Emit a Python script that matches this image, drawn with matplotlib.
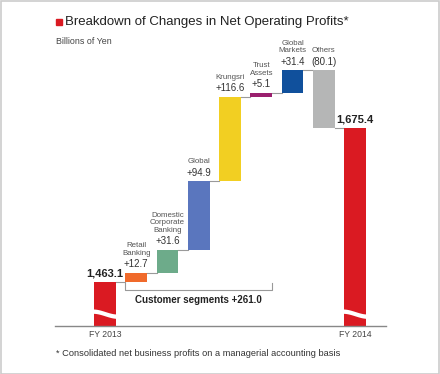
import numpy as np
import matplotlib.pyplot as plt
from matplotlib.patches import Rectangle

plt.rcParams['font.family'] = ['Liberation Sans', 'DejaVu Sans']

# data
names = ["", "Retail\nBanking", "Domestic\nCorporate\nBanking", "Global", "Krungsri",
         "Trust\nAssets", "Global\nMarkets", "Others", ""]
ticks = ["FY 2013", "", "", "", "", "", "", "", "FY 2014"]
start = 1463.1
end = 1675.4
changes = [12.7, 31.6, 94.9, 116.6, 5.1, 31.4, -80.1]
change_labels = ["+12.7", "+31.6", "+94.9", "+116.6", "+5.1", "+31.4", "(80.1)"]
colors = ["#da1a22", "#f06a2b", "#6dab8a", "#5a76be", "#f2cf22",
          "#9a1f6e", "#10509c", "#b5b6b6", "#da1a22"]
segment_text = "Customer segments +261.0"

fig = plt.figure(figsize=(4.4, 3.74), dpi=100)
ax = fig.add_axes([80/440, 48/374, 300/440, 286/374])
ylo, yhi = 1402.4, 1796.9
ax.set_xlim(-0.8, 8.8)
ax.set_ylim(ylo, yhi)
ax.axis('off')

w = 0.70
x = np.arange(len(names))

# waterfall bottoms / tops
bottoms = [ylo]
tops = [start]
level = start
for c in changes:
    bottoms.append(min(level, level + c))
    tops.append(max(level, level + c))
    level += c
bottoms.append(ylo)
tops.append(end)

ax.bar(x, np.array(tops) - np.array(bottoms), bottom=bottoms, width=w,
       color=colors, zorder=3)

# connectors
levels = [start]
for c in changes:
    levels.append(levels[-1] + c)
for i in range(len(x) - 1):
    ax.plot([x[i] + w/2, x[i+1] - w/2], [levels[i], levels[i]],
            color="#9a9a9a", lw=0.8, zorder=2)

# value + category labels
for i in range(1, len(x) - 1):
    ax.annotate(change_labels[i-1], (x[i], tops[i]), xytext=(0, 2.5),
                textcoords='offset points', ha='center', va='bottom',
                fontsize=7, color="#333333")
    ax.annotate(names[i], (x[i], tops[i]), xytext=(0, 11.5),
                textcoords='offset points', ha='center', va='bottom',
                fontsize=5.7, color="#555555", linespacing=1.1)
for i, v in [(0, start), (8, end)]:
    ax.annotate(f"{v:,.1f}", (x[i], v), xytext=(0, 2.5),
                textcoords='offset points', ha='center', va='bottom',
                fontsize=8, fontweight='bold', color="#222222")

# baseline and tick labels
ax.axhline(ylo, xmin=-0.083, xmax=1.02, color="#888888", lw=1, clip_on=False, zorder=4)
for i, t in enumerate(ticks):
    if t:
        ax.annotate(t, (x[i], ylo), xytext=(0, -3), textcoords='offset points',
                    ha='center', va='top', fontsize=6.2, color="#444444")

# broken-bar waves
t = np.linspace(0, 1, 40)
for i in (0, 8):
    xs = x[i] - w/2 - 0.05 + t * (w + 0.1)
    mid = ylo + 17 - 3.5 * np.sin(np.pi * (t - 0.5))
    ax.fill_between(xs, mid - 3, mid + 3, color="white", zorder=5, lw=0)

# customer segments bracket
by = start - 11
ax.plot([x[1] - w/2, x[1] - w/2, x[5] + w/2, x[5] + w/2],
        [by + 9.5, by, by, by + 9.5], color="#999999", lw=0.8)
ax.text((x[1] + x[5]) / 2, start - 25, segment_text, ha='center', va='center',
        fontsize=7, fontweight='bold', color="#222222")

# title, subtitle, footnote
fig.add_artist(Rectangle((56/440, 1 - 25/374), 6/440, 6/374,
                         transform=fig.transFigure, color="#da1a22"))
fig.text(65/440, 1 - 22/374, "Breakdown of Changes in Net Operating Profits*",
         fontsize=9.5, color="#222222", va='center')
fig.text(56/440, 1 - 41/374, "Billions of Yen", fontsize=6.4, color="#444444", va='center')
fig.text(56/440, 1 - 353/374,
         "* Consolidated net business profits on a managerial accounting basis",
         fontsize=6.65, color="#333333", va='center')

# outer frame
fig.add_artist(Rectangle((0.5/440, 0.5/374), 438.5/440, 372.5/374, transform=fig.transFigure,
                         fill=False, edgecolor="#cccccc", lw=1.2))

fig.savefig("out.png", dpi=100)
